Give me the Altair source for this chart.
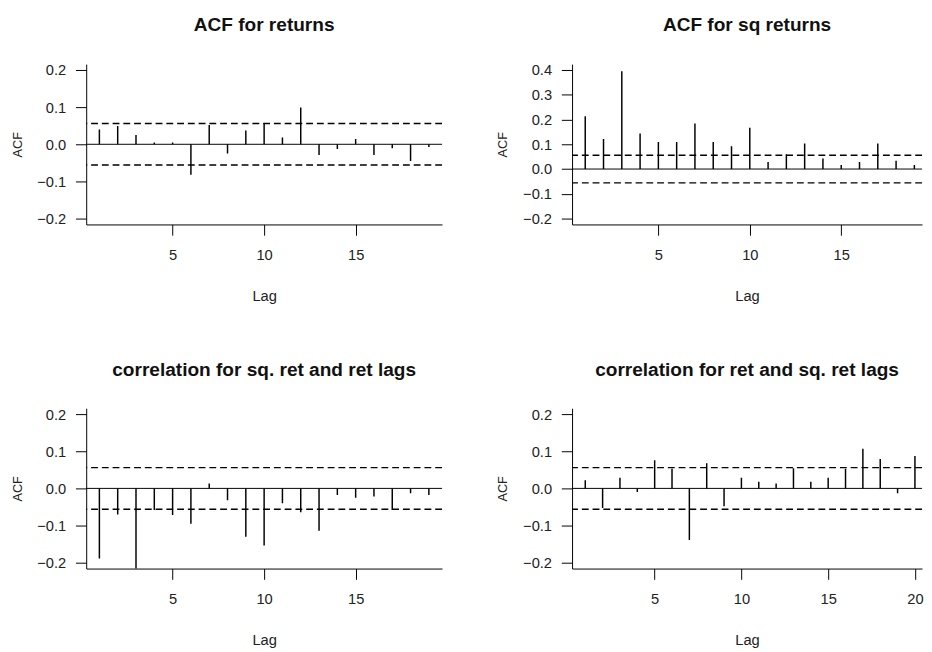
import altair as alt
import pandas as pd

lags19 = list(range(1, 20))
lags20 = list(range(1, 21))

acf_ret = [0.040, 0.049, 0.025, 0.005, 0.005, -0.082, 0.052, -0.025, 0.037, 0.055,
           0.018, 0.099, -0.029, -0.013, 0.014, -0.029, -0.011, -0.045, -0.007]
acf_sq = [0.213, 0.121, 0.395, 0.144, 0.109, 0.109, 0.184, 0.109, 0.092, 0.167,
          0.028, 0.060, 0.103, 0.043, 0.016, 0.028, 0.103, 0.033, 0.016]
ccf_sq_ret = [-0.189, -0.070, -0.230, -0.058, -0.072, -0.095, 0.013, -0.032, -0.130, -0.154,
              -0.040, -0.064, -0.114, -0.018, -0.025, -0.022, -0.058, -0.013, -0.018]
ccf_ret_sq = [0.022, -0.053, 0.029, -0.010, 0.076, 0.053, -0.139, 0.068, -0.048, 0.029,
              0.018, 0.013, 0.054, 0.018, 0.029, 0.053, 0.107, 0.079, -0.013, 0.087]
conf_band = [0.056, -0.056]

titles = ["ACF for returns", "ACF for sq returns",
          "correlation for sq. ret and ret lags", "correlation for ret and sq. ret lags"]
yticks_a = [-0.2, -0.1, 0.0, 0.1, 0.2]
yticks_b = [-0.2, -0.1, 0.0, 0.1, 0.2, 0.3, 0.4]
xticks_a = [5, 10, 15]
xticks_b = [5, 10, 15, 20]

FONT = "Liberation Sans"


def panel(title, lags, vals, xdom, ydom, yticks, xticks, width, height):
    df = pd.DataFrame({"lag": lags, "acf": vals})
    band = pd.DataFrame({"acf": conf_band})
    zero = pd.DataFrame({"acf": [0.0]})
    yscale = alt.Scale(domain=ydom, nice=False, zero=False)
    xscale = alt.Scale(domain=xdom, nice=False, zero=False)
    yenc = alt.Y("acf:Q", scale=yscale,
                 axis=alt.Axis(values=yticks, format=".1f", title="ACF"))
    xenc = alt.X("lag:Q", scale=xscale,
                 axis=alt.Axis(values=xticks, format="d", title="Lag"))
    bars = alt.Chart(df).mark_rule(color="black", strokeWidth=1.5, clip=True).encode(
        x=xenc, y=yenc, y2=alt.datum(0))
    dashed = alt.Chart(band).mark_rule(color="black", strokeWidth=1.5,
                                       strokeDash=[7, 4]).encode(y=yenc)
    zline = alt.Chart(zero).mark_rule(color="black", strokeWidth=1).encode(y=yenc)
    return alt.layer(zline, dashed, bars).properties(
        width=width, height=height,
        title=alt.TitleParams(title, fontSize=19.5, fontWeight="bold", font=FONT,
                              color="#111", offset=28))


p1 = panel(titles[0], lags19, acf_ret, [0.28, 19.72], [-0.216, 0.216], yticks_a, xticks_a, 364, 164)
p2 = panel(titles[1], lags19, acf_sq, [0.28, 19.42], [-0.224, 0.424], yticks_b, xticks_a, 358, 164)
p3 = panel(titles[2], lags19, ccf_sq_ret, [0.28, 19.72], [-0.216, 0.216], yticks_a, xticks_a, 364, 164)
p4 = panel(titles[3], lags20, ccf_ret_sq, [0.24, 20.41], [-0.216, 0.216], yticks_a, xticks_b, 358, 164)

chart = alt.concat(p1, p2, p3, p4, columns=2, spacing={"row": 188, "column": 133},
                   bounds="flush").properties(
    padding={"top": 0, "left": 3, "right": 0, "bottom": 0}
).configure_view(stroke=None).configure_axis(
    grid=False, domainColor="black", domainWidth=1, tickColor="black", tickWidth=1,
    tickSize=11, labelFont=FONT, labelFontSize=15, labelColor="#222",
    titleFont=FONT, titleFontWeight="normal", titleColor="#222"
).configure_axisY(titlePadding=13, labelPadding=10, titleFontSize=13
).configure_axisX(titlePadding=27, labelPadding=13, titleFontSize=15)

chart.save("out.html", embed_options={"renderer": "svg", "actions": False})
